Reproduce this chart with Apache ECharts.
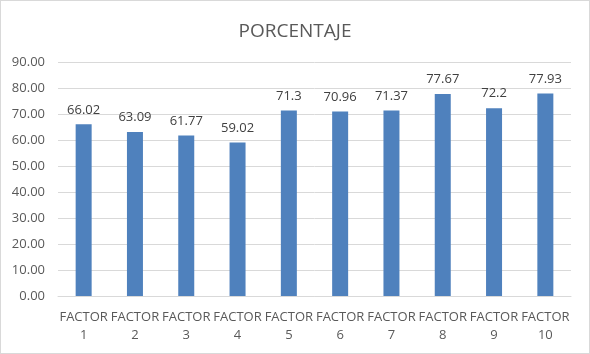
<!DOCTYPE html>
<html><head><meta charset="utf-8">
<script src="https://cdn.jsdelivr.net/npm/echarts@6/dist/echarts.min.js"></script>
<style>html,body{margin:0;padding:0;background:#fff}#c{width:590px;height:354px;box-sizing:border-box;border:1px solid #d9d9d9}</style>
</head><body><div id="c"></div>
<script>
const categories = ["FACTOR\n1","FACTOR\n2","FACTOR\n3","FACTOR\n4","FACTOR\n5","FACTOR\n6","FACTOR\n7","FACTOR\n8","FACTOR\n9","FACTOR\n10"];
const values = [66.02, 63.09, 61.77, 59.02, 71.3, 70.96, 71.37, 77.67, 72.2, 77.93];
const title = "PORCENTAJE";
const chart = echarts.init(document.getElementById('c'));
chart.setOption({
  animation: false,
  title: {text: title, left: 'center', top: 16, textStyle: {fontFamily: 'Open Sans, Liberation Sans, sans-serif', fontSize: 19, fontWeight: 'normal', color: '#595959'}},
  grid: {left: 57, right: 18, top: 61, bottom: 57},
  xAxis: {type: 'category', data: categories,
    axisLine: {lineStyle: {color: '#d9d9d9'}}, axisTick: {show: false},
    axisLabel: {color: '#595959', fontSize: 13, fontFamily: 'Open Sans, Liberation Sans, sans-serif', lineHeight: 18, interval: 0, margin: 12}},
  yAxis: {type: 'value', min: 0, max: 90, interval: 10,
    axisLine: {show: false}, axisTick: {show: false},
    splitLine: {lineStyle: {color: '#d9d9d9'}},
    axisLabel: {color: '#595959', fontSize: 13, fontFamily: 'Open Sans, Liberation Sans, sans-serif', margin: 13, formatter: v => v.toFixed(2)}},
  series: [{type: 'bar', data: values, barWidth: 16, itemStyle: {color: '#4f81bd'},
    label: {show: true, position: 'top', distance: 8, color: '#404040', fontSize: 13, fontFamily: 'Open Sans, Liberation Sans, sans-serif'}}]
});
</script></body></html>
